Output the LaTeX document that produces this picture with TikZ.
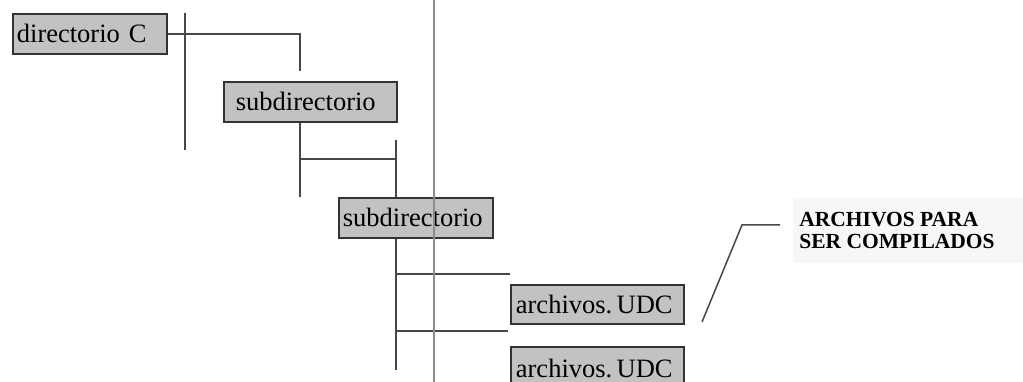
\documentclass[tikz,border=0pt]{standalone}
\usepackage{fontspec}
\setmainfont{Liberation Serif}
\definecolor{boxfill}{gray}{0.76}
\definecolor{boxline}{gray}{0.2}
\definecolor{conn}{gray}{0.28}
\definecolor{longline}{gray}{0.55}
\definecolor{labelbg}{gray}{0.97}
\tikzset{
  dirbox/.style={draw=boxline, line width=1.8pt, fill=boxfill, rectangle,
    minimum height=40pt, anchor=north west, align=left, inner ysep=0pt,
    font=\fontsize{26.5}{28}\selectfont},
  connector/.style={draw=conn, line width=1.5pt},
  divider/.style={draw=longline, line width=1.8pt},
  note/.style={align=left, inner sep=0pt,
    font=\fontsize{21.5}{22}\selectfont\bfseries}
}
\begin{document}
\begin{tikzpicture}[x=1pt,y=-1pt]
\useasboundingbox (0,0) rectangle (1023,382);
\clip (0,0) rectangle (1023,382);
% faint background behind note
\fill[labelbg] (793,198) rectangle (1023,263);
% coordinates
\coordinate (a1) at (300,71);
\coordinate (v1t) at (185,13);
\coordinate (v1b) at (185,150);
\coordinate (b1) at (300,197);
\coordinate (h1) at (300,159);
\coordinate (h1r) at (396,159);
\coordinate (c1t) at (396,140);
\coordinate (c1b) at (396,370);
\coordinate (d1) at (396,274);
\coordinate (d1r) at (510,274);
\coordinate (e1) at (396,331);
\coordinate (e1r) at (508,331);
\coordinate (Lt) at (434,0);
\coordinate (Lb) at (434,382);
\coordinate (s1) at (702,322);
\coordinate (s2) at (742,225);
\coordinate (s3) at (780,225);
% nodes
\node[dirbox, inner xsep=4pt, text width=146pt] (A) at (12,13) {directorio C};
\node[dirbox, inner xsep=12pt, text width=149pt] (B) at (223,81) {subdirectorio};
\node[dirbox, inner xsep=4pt, text width=146pt] (C) at (338,197) {subdirectorio};
\node[dirbox, inner xsep=5pt, text width=163pt, minimum height=39pt] (D) at (510,284) {archivos.\,UDC};
\node[dirbox, inner xsep=5pt, text width=163pt, minimum height=44pt] (E) at (510,346) {archivos.\,UDC};
\node[note] (N) at (897,230) {ARCHIVOS PARA\\SER COMPILADOS};
% connectors
\draw[connector] (A.east) -| (a1);
\draw[connector] (v1t) -- (v1b);
\draw[connector] (B.south -| b1) -- (b1);
\draw[connector] (h1) -- (h1r);
\draw[connector] (c1t) -- (C.north -| c1t);
\draw[connector] (C.south -| c1b) -- (c1b);
\draw[connector] (d1) -- (d1r);
\draw[connector] (e1) -- (e1r);
\draw[connector] (s1) -- (s2) -- (s3);
\draw[divider] (Lt) -- (Lb);
\end{tikzpicture}
\end{document}
